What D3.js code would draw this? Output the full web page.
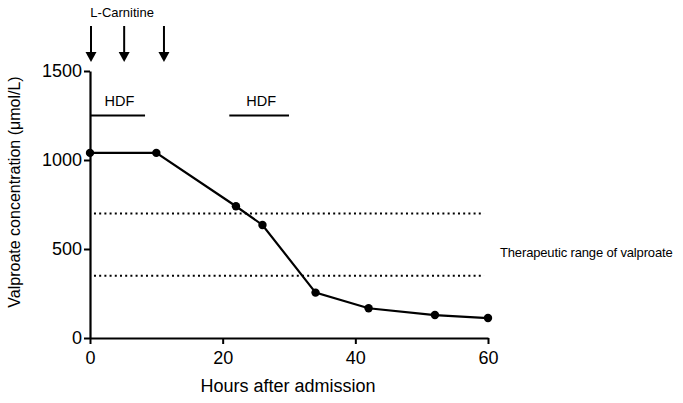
<!DOCTYPE html>
<html>
<head>
<meta charset="utf-8">
<script src="https://cdn.jsdelivr.net/npm/d3@7"></script>
<style>
  body { margin: 0; background: #fff; }
  text { font-family: "Liberation Sans", Arial, sans-serif; fill: #000; }
</style>
</head>
<body>
<svg id="chart" width="683" height="403"></svg>
<script>
// measured valproate levels
var hours = [0, 10, 22, 26, 34, 42, 52, 60];
var valproate = [1040, 1040, 740, 635, 255, 167, 129, 112];

// therapeutic range bounds
var rangeBounds = [700, 350];

// HDF sessions, [start, end] in hours
var hdfSessions = [[0, 8.3], [21, 30]];
var hdfLevel = 1250;

// L-Carnitine doses, hours
var carnitineDoses = [0, 5, 11];

var xTicks = [0, 20, 40, 60];
var yTicks = [0, 500, 1000, 1500];

var margin = {left: 90, top: 71, right: 195, bottom: 65};
var width = 683 - margin.left - margin.right;
var height = 403 - margin.top - margin.bottom;

var svg = d3.select('#chart');

var x = d3.scaleLinear().domain([0, 60]).range([0, width]);
var y = d3.scaleLinear().domain([0, 1500]).range([height, 0]);

var g = svg.append('g')
    .attr('transform', 'translate(' + margin.left + ',' + margin.top + ')');

// axes
var xAxis = g.append('g')
    .attr('transform', 'translate(0,' + height + ')')
    .call(d3.axisBottom(x).tickValues(xTicks).tickFormat(d3.format('d'))
        .tickSize(6).tickSizeOuter(0));
var yAxis = g.append('g')
    .call(d3.axisLeft(y).tickValues(yTicks).tickFormat(d3.format('d'))
        .tickSize(6).tickSizeOuter(0));

[xAxis, yAxis].forEach(function(ax) {
  ax.select('.domain').attr('stroke', '#000').attr('stroke-width', 2.2);
  ax.selectAll('.tick line').attr('stroke', '#000').attr('stroke-width', 2);
  ax.selectAll('.tick text')
      .style('font-family', '"Liberation Sans", Arial, sans-serif')
      .style('font-size', '18px')
      .attr('fill', '#000');
});
xAxis.selectAll('.tick text').attr('dy', '0.95em');
yAxis.selectAll('.tick text').attr('x', -8);

// therapeutic range dotted lines
g.selectAll('.range-line').data(rangeBounds).enter().append('line')
    .attr('class', 'range-line')
    .attr('x1', x(0.6)).attr('x2', x(59.4))
    .attr('y1', function(d) { return y(d); })
    .attr('y2', function(d) { return y(d); })
    .attr('stroke', '#000')
    .attr('stroke-width', 2)
    .attr('stroke-dasharray', '2,3.2');

// HDF bars and labels
g.selectAll('.hdf').data(hdfSessions).enter().append('line')
    .attr('class', 'hdf')
    .attr('x1', function(d) { return x(d[0]); })
    .attr('x2', function(d) { return x(d[1]); })
    .attr('y1', y(hdfLevel)).attr('y2', y(hdfLevel))
    .attr('stroke', '#000').attr('stroke-width', 2.2);

g.selectAll('.hdf-label').data(hdfSessions).enter().append('text')
    .attr('class', 'hdf-label')
    .attr('x', function(d) { return x((d[0] + d[1]) / 2) + 2; })
    .attr('y', y(hdfLevel) - 10)
    .attr('text-anchor', 'middle')
    .style('font-size', '14.5px')
    .text('HDF');

// concentration line
var pts = hours.map(function(h, i) { return [h, valproate[i]]; });
g.append('path')
    .datum(pts)
    .attr('fill', 'none')
    .attr('stroke', '#000')
    .attr('stroke-width', 2.2)
    .attr('d', d3.line()
        .x(function(d) { return x(d[0]); })
        .y(function(d) { return y(d[1]); }));

g.selectAll('.pt').data(pts).enter().append('circle')
    .attr('class', 'pt')
    .attr('cx', function(d) { return x(d[0]); })
    .attr('cy', function(d) { return y(d[1]); })
    .attr('r', 4.2)
    .attr('fill', '#000');

// L-Carnitine arrows
var arrows = g.selectAll('.dose').data(carnitineDoses).enter().append('g')
    .attr('class', 'dose')
    .attr('transform', function(d) { return 'translate(' + (x(d) + 1) + ',0)'; });
arrows.append('line')
    .attr('x1', 0).attr('x2', 0)
    .attr('y1', -45).attr('y2', -16)
    .attr('stroke', '#000').attr('stroke-width', 2);
arrows.append('path')
    .attr('d', 'M-5.5,-19 L5.5,-19 L0,-9 Z')
    .attr('fill', '#000');

svg.append('text')
    .attr('x', x(5) + margin.left - 1)
    .attr('y', 17)
    .attr('text-anchor', 'middle')
    .style('font-size', '13px')
    .text('L-Carnitine');

// range label
svg.append('text')
    .attr('x', 500)
    .attr('y', 257)
    .style('font-size', '13px')
    .style('letter-spacing', '-0.15px')
    .text('Therapeutic range of valproate');

// axis titles
svg.append('text')
    .attr('x', margin.left + x(30) - 1)
    .attr('y', 392)
    .attr('text-anchor', 'middle')
    .style('font-size', '18px')
    .text('Hours after admission');

svg.append('text')
    .attr('transform', 'translate(20,192) rotate(-90)')
    .attr('text-anchor', 'middle')
    .style('font-size', '16px')
    .text('Valproate concentration (\u03bcmol/L)');
</script>
</body>
</html>
